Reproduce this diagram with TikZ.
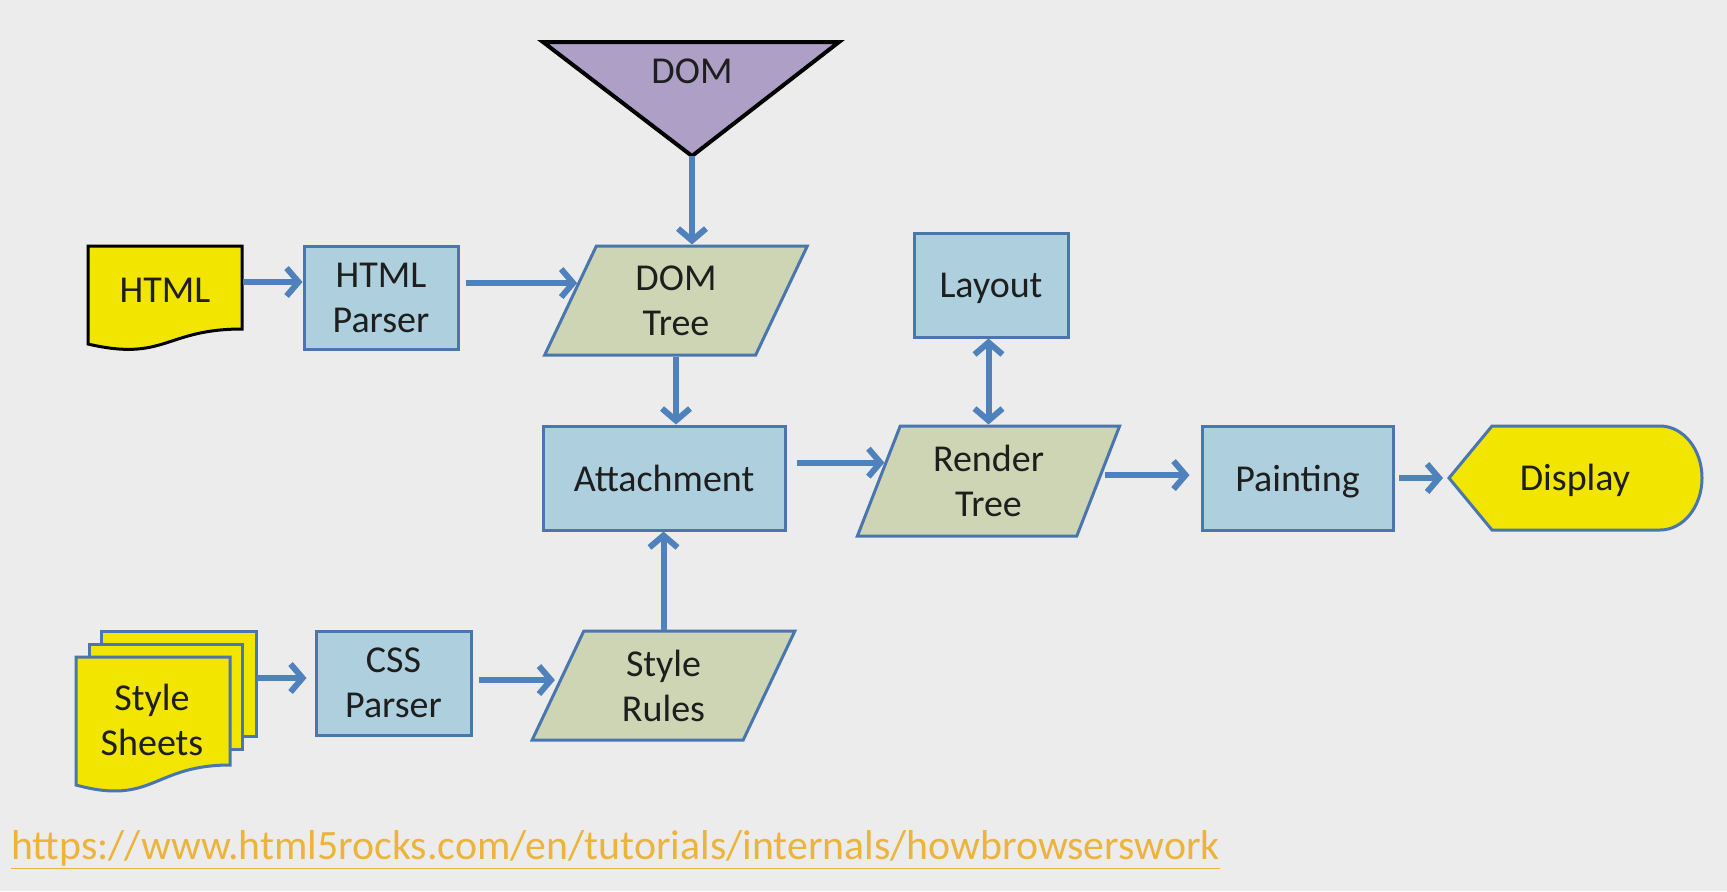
\documentclass[tikz,border=0pt]{standalone}
\usepackage{fontspec}
\setmainfont{Carlito}
\usetikzlibrary{arrows.meta,shapes.geometric}
\definecolor{bg}{RGB}{236,236,236}
\definecolor{boxblue}{RGB}{173,207,222}
\definecolor{boxborder}{RGB}{74,118,176}
\definecolor{arrowblue}{RGB}{79,129,189}
\definecolor{olivefill}{RGB}{205,213,180}
\definecolor{purplefill}{RGB}{173,159,198}
\definecolor{docyellow}{RGB}{242,229,0}
\definecolor{urlorange}{RGB}{237,180,60}
\definecolor{txt}{RGB}{30,30,30}
\begin{document}
\begin{tikzpicture}[x=0.5pt,y=-0.5pt,
  lbl/.style={text=txt,font=\fontsize{19pt}{22.5pt}\selectfont,align=center,inner sep=0pt},
  procbox/.style={lbl,rectangle,draw=boxborder,line width=1.5pt,fill=boxblue},
  databox/.style={lbl,trapezium,trapezium left angle=69.4,trapezium right angle=110.6,
     trapezium stretches=true,draw=boxborder,line width=1.5pt,fill=olivefill},
  docshape/.style={fill=docyellow,line width=1.5pt,draw=boxborder},
  arr/.style={draw=arrowblue,line width=3pt,-{Straight Barb[length=6pt,width=14pt]}},
  arrboth/.style={draw=arrowblue,line width=3pt,{Straight Barb[length=6pt,width=14pt]}-{Straight Barb[length=6pt,width=14pt]}}
]
\useasboundingbox[fill=bg] (0,0) rectangle (1727,891);

% DOM triangle
\draw[fill=purplefill,draw=black,line width=2pt,line join=miter] (543,42) -- (839,42) -- (692,156) -- cycle;
\node[lbl] (dom) at (692,71) {DOM};
\coordinate (domtip) at (692,156);

% HTML document
\draw[docshape,draw=black] (88,246) -- (242,246) -- (242,329) .. controls (165,329) and (165,362) .. (88,344) -- cycle;
\node[lbl] (html) at (165,290) {HTML};
\coordinate (htmlR) at (243,282);

% Style sheets (multi document)
\draw[docshape] (101,631) rectangle (256,736);
\draw[docshape] (89,644) rectangle (242,749);
\draw[docshape] (76,657) -- (230,657) -- (230,765) .. controls (153,765) and (153,806) .. (76,785) -- cycle;
\node[lbl] (ss) at (152,720) {Style\\Sheets};
\coordinate (ssR) at (257,678);

% process boxes
\node[procbox,minimum width=77pt,minimum height=51.5pt] (hp) at (381,297.5) {HTML\\Parser};
\node[procbox,minimum width=77pt,minimum height=52pt,text depth=0pt] (lay) at (991,285) {Layout};
\node[procbox,minimum width=121pt,minimum height=52pt] (att) at (664,478) {Attachment};
\node[procbox,minimum width=95.5pt,minimum height=52pt,text depth=0pt] (pt) at (1297.5,478) {Painting};
\node[procbox,minimum width=77.5pt,minimum height=52pt] (css) at (393.5,683) {CSS\\Parser};

% data parallelograms
\node[databox,minimum width=132pt,minimum height=54.5pt] (dt) at (676,300.5) {DOM\\Tree};
\node[databox,minimum width=131.5pt,minimum height=55pt] (rt) at (988.5,481) {Render\\Tree};
\node[databox,minimum width=131.5pt,minimum height=54.5pt] (sr) at (663.5,685.5) {Style\\Rules};

% Display
\draw[docshape] (1449,478) -- (1492,426) -- (1660,426) arc[start angle=90,end angle=-90,x radius=21pt,y radius=26pt] -- (1492,530) -- cycle;
\node[lbl,text depth=0pt] (disp) at (1575,477) {Display};
\coordinate (disptip) at (1449,478);

% connectors
\draw[arr] (htmlR) -- (htmlR -| hp.west);
\draw[arr,shorten <=3pt] (hp.east |- dt.170) -- (dt.170);
\draw[arr] (domtip) -- (domtip |- dt.north);
\draw[arr] (dt.south) -- (dt.south |- att.north);
\draw[arr,shorten <=5pt] (att.east |- rt.170) -- (rt.170);
\draw[arrboth] (rt.north) -- (rt.north |- lay.south);
\draw[arr,shorten <=1.5pt,shorten >=5.5pt] (rt.3) -- (rt.3 -| pt.west);
\draw[arr,shorten <=2pt,shorten >=3pt] (pt.east) -- (disptip);
\draw[arr,shorten >=4pt] (ssR) -- (ssR -| css.west);
\draw[arr,shorten <=3pt,shorten >=2pt] (css.east |- sr.177) -- (sr.177);
\draw[arr] (sr.north) -- (sr.north |- att.south);

% URL
\node[anchor=base west,inner sep=0pt,text=urlorange,font=\fontsize{20.9pt}{24pt}\selectfont] (url) at (11,859)
  {\underline{https://www.html5rocks.com/en/tutorials/internals/howbrowserswork}};
\end{tikzpicture}
\end{document}
